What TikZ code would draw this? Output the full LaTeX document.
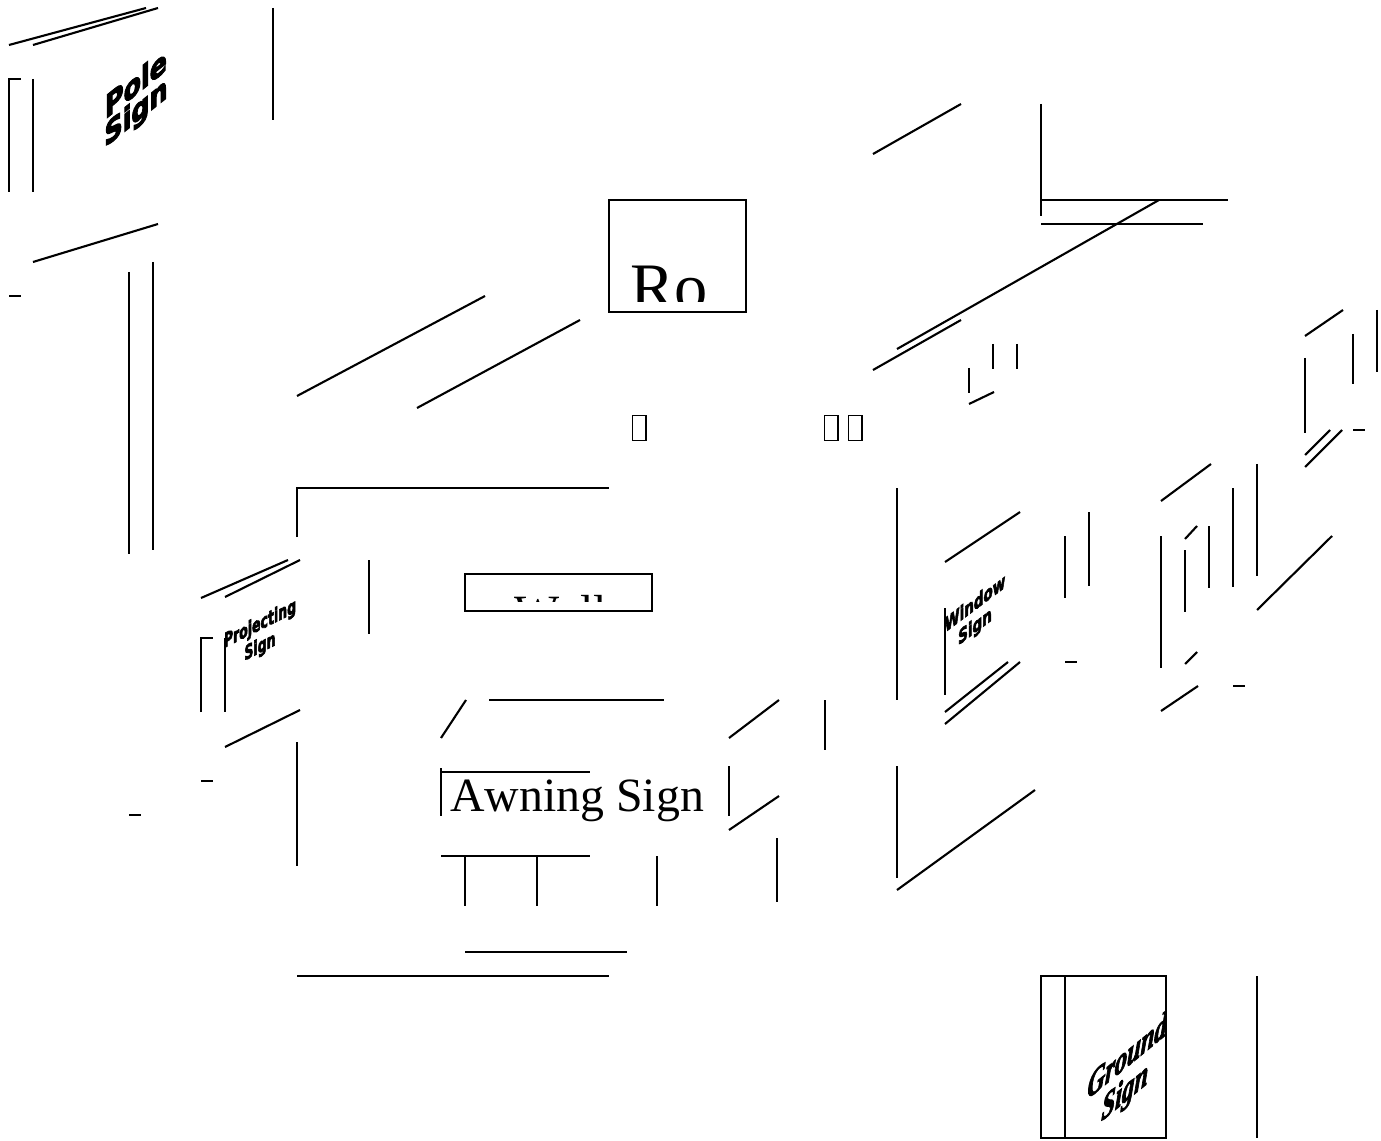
\documentclass[tikz,border=0pt]{standalone}
\usepackage{fontspec}
\usepackage{tikz}
\setmainfont[Kerning=Off]{Liberation Serif}
\newfontfamily\heavyfont[FakeBold=4]{DejaVu Sans}
\newfontfamily\groundfont[BoldItalicFeatures={FakeBold=3}]{Liberation Serif}
\begin{document}
\begin{tikzpicture}[
    x=0.02cm,
    y=-0.02cm,
    line/.style={line width=0.042cm, line cap=butt},
    tofu/.style={draw, line width=0.03cm, inner sep=0pt, minimum width=0.27cm, minimum height=0.51cm},
    bigtext/.style={anchor=base west, inner sep=0pt, font=\fontsize{27.2pt}{30pt}\selectfont},
    hugetext/.style={anchor=base west, inner sep=0pt, font=\fontsize{37.8pt}{44pt}\selectfont},
    polesign/.style={align=center, inner sep=0pt, font=\heavyfont\bfseries\fontsize{18pt}{15.8pt}\selectfont, yslant=0.8, xscale=0.8},
    projsign/.style={align=center, inner sep=0pt, font=\heavyfont\bfseries\fontsize{11.3pt}{13pt}\selectfont, yslant=0.5, xscale=0.63},
    winsign/.style={align=center, inner sep=0pt, font=\heavyfont\bfseries\fontsize{11.3pt}{13pt}\selectfont, yslant=0.75, xscale=0.68},
    groundsign/.style={align=center, inner sep=0pt, font=\groundfont\bfseries\itshape\fontsize{20pt}{19pt}\selectfont, yslant=0.82, xscale=0.7, xslant=0.1}
]
\useasboundingbox (0,0) rectangle (1381,1141);

% pole sign
\draw[line] (9,45) -- (146,8);
\draw[line] (33,45) -- (158,8);
\draw[line] (273,8) -- (273,120);
\draw[line] (9,192) -- (9,79) -- (21,79);
\draw[line] (33,79) -- (33,192);
\draw[line] (33,262) -- (158,224);
\draw[line] (9,296) -- (21,296);
\draw[line] (129,272) -- (129,554);
\draw[line] (153,262) -- (153,550);
\node[polesign] (pole) at (136,100) {Pole\\Sign};

% roof sign
\draw[line] (297,396) -- (485,296);
\draw[line] (417,408) -- (580,320);
\draw[line] (609,200) rectangle (746,312);
\begin{scope}
\clip (609,200) rectangle (746,301.5);
\node[hugetext] (roof) at (630,310) {Ro};
\end{scope}
\node[tofu] (tofua) at (639,428) {};
\node[tofu] (tofub) at (831,428) {};
\node[tofu] (tofuc) at (855,428) {};

% upper right
\draw[line] (873,154) -- (961,104);
\draw[line] (1041,104) -- (1041,216);
\draw[line] (1041,200) -- (1228,200);
\draw[line] (1041,224) -- (1203,224);
\draw[line] (897,349) -- (1159,200);
\draw[line] (873,370) -- (961,320);
\draw[line] (993,344) -- (993,369);
\draw[line] (1017,344) -- (1017,369);
\draw[line] (969,368) -- (969,393);
\draw[line] (969,404) -- (994,392);
\draw[line] (1305,336) -- (1343,310);
\draw[line] (1377,310) -- (1377,372);
\draw[line] (1353,334) -- (1353,384);
\draw[line] (1305,358) -- (1305,433);
\draw[line] (1353,430) -- (1365,430);
\draw[line] (1305,455) -- (1330,430);
\draw[line] (1305,467) -- (1342,430);

% right column
\draw[line] (1161,501) -- (1211,464);
\draw[line] (1257,464) -- (1257,576);
\draw[line] (1233,488) -- (1233,587);
\draw[line] (1209,526) -- (1209,588);
\draw[line] (1185,539) -- (1197,526);
\draw[line] (1185,550) -- (1185,612);
\draw[line] (1161,536) -- (1161,668);
\draw[line] (1257,610) -- (1332,536);
\draw[line] (1185,664) -- (1197,652);
\draw[line] (1161,711) -- (1198,686);
\draw[line] (1233,686) -- (1245,686);

% window sign
\draw[line] (945,562) -- (1020,512);
\draw[line] (1065,536) -- (1065,598);
\draw[line] (1089,512) -- (1089,586);
\draw[line] (897,488) -- (897,700);
\draw[line] (945,608) -- (945,695);
\draw[line] (1065,662) -- (1077,662);
\draw[line] (945,712) -- (1008,662);
\draw[line] (945,724) -- (1020,662);
\begin{scope}
\clip (945,560) rectangle (1020,660);
\node[winsign] (window) at (975,616) {Window\\Sign};
\end{scope}

% wall sign
\draw[line] (297,537) -- (297,488) -- (609,488);
\draw[line] (465,574) rectangle (652,611);
\begin{scope}
\clip (465,574) rectangle (652,601);
\node[bigtext] (wall) at (514,628) {Wall};
\end{scope}

% awning sign
\draw[line] (441,738) -- (466,700);
\draw[line] (489,700) -- (664,700);
\draw[line] (441,768) -- (441,816);
\draw[line] (441,772) -- (590,772);
\draw[line] (441,856) -- (590,856);
\draw[line] (465,856) -- (465,906);
\draw[line] (537,856) -- (537,906);
\draw[line] (657,856) -- (657,906);
\draw[line] (465,952) -- (627,952);
\draw[line] (297,976) -- (609,976);
\draw[line] (297,742) -- (297,866);
\draw[line] (729,738) -- (779,700);
\draw[line] (825,700) -- (825,750);
\draw[line] (729,766) -- (729,816);
\draw[line] (729,830) -- (779,796);
\draw[line] (777,838) -- (777,902);
\draw[line] (897,766) -- (897,878);
\draw[line] (897,890) -- (1035,790);
\node[bigtext] (awning) at (450,811) {Awning Sign};

% projecting sign
\draw[line] (201,598) -- (288,560);
\draw[line] (225,597) -- (300,560);
\draw[line] (369,560) -- (369,634);
\draw[line] (201,712) -- (201,638) -- (213,638);
\draw[line] (225,638) -- (225,712);
\draw[line] (225,747) -- (300,710);
\draw[line] (201,781) -- (213,781);
\draw[line] (129,815) -- (141,815);
\begin{scope}
\clip (225,590) rectangle (300,680);
\node[projsign] (projecting) at (260,636) {Projecting\\Sign};
\end{scope}

% ground sign
\draw[line] (1041,976) rectangle (1166,1138);
\draw[line] (1065,976) -- (1065,1138);
\draw[line] (1257,976) -- (1257,1138);
\begin{scope}
\clip (1041,976) rectangle (1166,1138);
\node[groundsign] (ground) at (1126,1076) {Ground\\Sign};
\end{scope}
\end{tikzpicture}
\end{document}
